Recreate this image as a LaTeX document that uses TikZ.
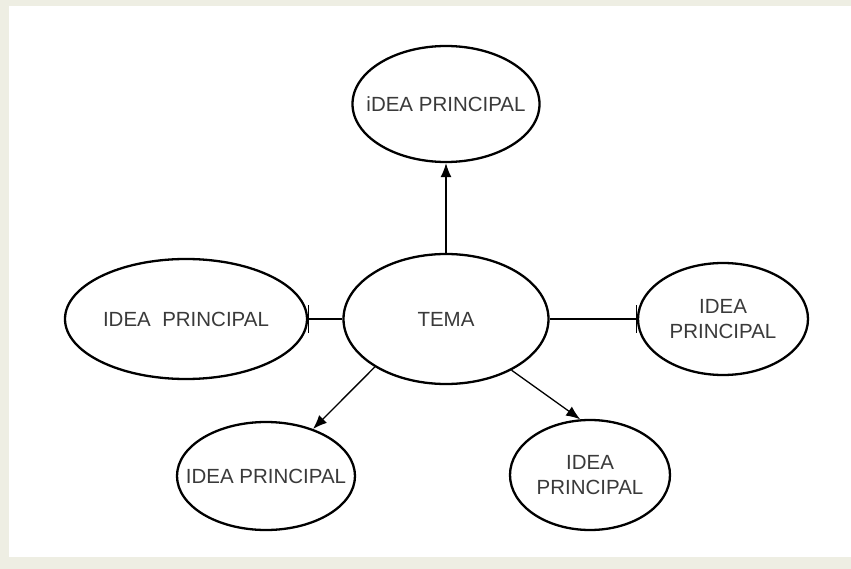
\documentclass[tikz,border=0pt]{standalone}
\usepackage{fontspec}
\setmainfont{Liberation Sans}
\usetikzlibrary{arrows.meta,shapes.geometric}
\definecolor{paper}{HTML}{EEEEE3}
\definecolor{ink}{HTML}{3A3A3A}

\begin{document}
\begin{tikzpicture}[x=1pt,y=-1pt,
  idea/.style={ellipse,draw,line width=2.3pt,inner xsep=-45pt,inner ysep=-20pt,
    align=center,text=ink,font=\fontsize{20.5}{24.5}\selectfont},
  link/.style={line width=1.3pt},
  arr/.style={link,-{Latex[length=14pt,width=11pt]}},
  stop/.style={link,-{Bar[width=28pt,line width=1.3pt]}}]
  \useasboundingbox (0,0) rectangle (851,569);
  \fill[paper] (0,0) rectangle (851,569);
  \fill[white] (9,6) rectangle (851,557);
  \node[idea,minimum width=205pt,minimum height=130pt] (tema) at (446,319) {TEMA};
  \node[idea,minimum width=187pt,minimum height=116pt] (top) at (446,104) {iDEA PRINCIPAL};
  \node[idea,minimum width=242pt,minimum height=120pt] (left) at (186,319) {IDEA\ \ PRINCIPAL};
  \node[idea,minimum width=170pt,minimum height=112pt] (right) at (723,319) {IDEA\\PRINCIPAL};
  \node[idea,minimum width=178pt,minimum height=108pt] (botleft) at (266,476) {IDEA PRINCIPAL};
  \node[idea,minimum width=160pt,minimum height=110pt] (botright) at (590,475) {IDEA\\PRINCIPAL};
  \draw[arr] (tema.north) -- (top.south);
  \draw[stop] (tema.west) -- (left.east);
  \draw[stop] (tema.east) -- (right.west);
  \draw[arr] (tema.214) -- (botleft.45);
  \draw[arr] (tema.322) -- (botright.100);
\end{tikzpicture}
\end{document}
